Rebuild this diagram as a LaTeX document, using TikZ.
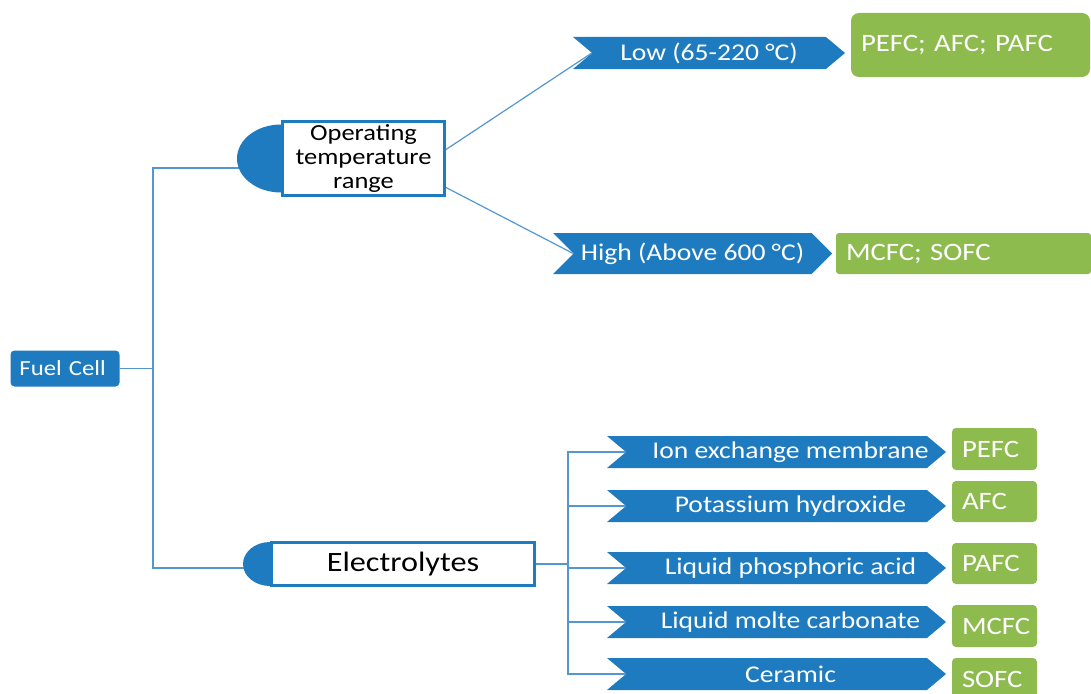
\documentclass[tikz,border=0pt]{standalone}
\usepackage{fontspec}
\setmainfont{Carlito}[FakeStretch=1.15]
\frenchspacing
\usetikzlibrary{shapes.symbols}
\definecolor{fcblue}{RGB}{31,123,192}
\definecolor{fcgreen}{RGB}{141,187,77}
\definecolor{fcline}{RGB}{84,150,210}
\tikzset{
  arrowbox/.style={shape=signal, signal from=west, signal to=east, signal pointer angle=80, fill=fcblue, text=white, inner sep=2pt, font=\fontsize{24}{27}\selectfont},
  rowbox/.style={arrowbox, minimum width=339pt, minimum height=32pt, execute at begin node=\hspace*{14pt}, execute at end node=\hspace*{-14pt}},
  greenbox/.style={fill=fcgreen, text=white, rounded corners=4pt, align=left, inner xsep=10pt, font=\fontsize{25}{28}\selectfont},
  whitebox/.style={draw=fcblue, line width=3pt, fill=white, align=center},
  conn/.style={draw=fcline, line width=1.2pt},
}
\begin{document}
\begin{tikzpicture}[x=1pt,y=-1pt]
\useasboundingbox (0,0) rectangle (1091,693);

\node [fill=fcblue, text=white, rounded corners=4pt, text width=91pt, inner xsep=9pt, align=left, minimum height=36pt, font=\fontsize{21.5}{24}\selectfont] (fc) at (65,368.5) {Fuel Cell};

\node [whitebox, minimum width=162pt, minimum height=70pt, font=\fontsize{23}{24}\selectfont] (op) at (363.5,158.5) {Operating\\temperature\\range};

\node [whitebox, minimum width=263pt, minimum height=43pt, font=\fontsize{28}{31}\selectfont] (el) at (403,564) {Electrolytes};

% temperature branch
\node [arrowbox, minimum width=272pt, minimum height=32pt] (lo) at (709,53) {Low (65-220 °C)};
\node [arrowbox, signal pointer angle=90, minimum width=279pt, minimum height=41pt] (hi) at (692.5,253.5) {High (Above 600 °C)};

\node [greenbox, rounded corners=8pt, text width=219pt, minimum height=64pt] (pg) at (970.5,45) {PEFC; AFC; PAFC};
\node [greenbox, rounded corners=3pt, text width=235pt, minimum height=41pt] (mg) at (963.5,253.5) {MCFC; SOFC};

% electrolyte branch
\node [rowbox] (e1) at (776.5,452) {Ion exchange membrane};
\node [rowbox] (e2) at (776.5,506) {Potassium hydroxide};
\node [rowbox] (e3) at (776.5,568) {Liquid phosphoric acid};
\node [rowbox] (e4) at (776.5,622) {Liquid molte carbonate};
\node [rowbox] (e5) at (776.5,674) {Ceramic};

\node [greenbox, text width=65pt, minimum height=42pt] (g1) at (994.5,449) {PEFC};
\node [greenbox, text width=65pt, minimum height=41pt] (g2) at (994.5,501.5) {AFC};
\node [greenbox, text width=65pt, minimum height=41pt] (g3) at (994.5,563.5) {PAFC};
\node [greenbox, text width=65pt, minimum height=42pt] (g4) at (994.5,626) {MCFC};
\node [greenbox, text width=65pt, minimum height=42pt] (g5) at (994.5,679) {SOFC};

% connectors
\coordinate (j0) at (153,368.5);
\coordinate (opl) at (240,168);
\coordinate (ell) at (246,568);
\coordinate (j1) at (568,564);

\draw [conn] (fc.east) -- (j0);
\draw [conn] (opl) -| (j0) |- (ell);

\draw [conn] ([yshift=9pt]op.east) -- (lo.west);
\draw [conn] ([yshift=-29pt]op.east) -- (hi.west);

\draw [conn] (el.east) -- (j1);
\draw [conn] (j1) |- (e1.west);
\draw [conn] (j1) |- (e2.west);
\draw [conn] (j1) |- (e3.west);
\draw [conn] (j1) |- (e4.west);
\draw [conn] (j1) |- (e5.west);

% half discs
\fill [fcblue] ([yshift=34pt]op.west) arc [start angle=90, end angle=270, x radius=44pt, y radius=34pt] -- cycle;
\fill [fcblue] ([yshift=22pt]el.west) arc [start angle=90, end angle=270, x radius=27pt, y radius=22pt] -- cycle;

\end{tikzpicture}
\end{document}
